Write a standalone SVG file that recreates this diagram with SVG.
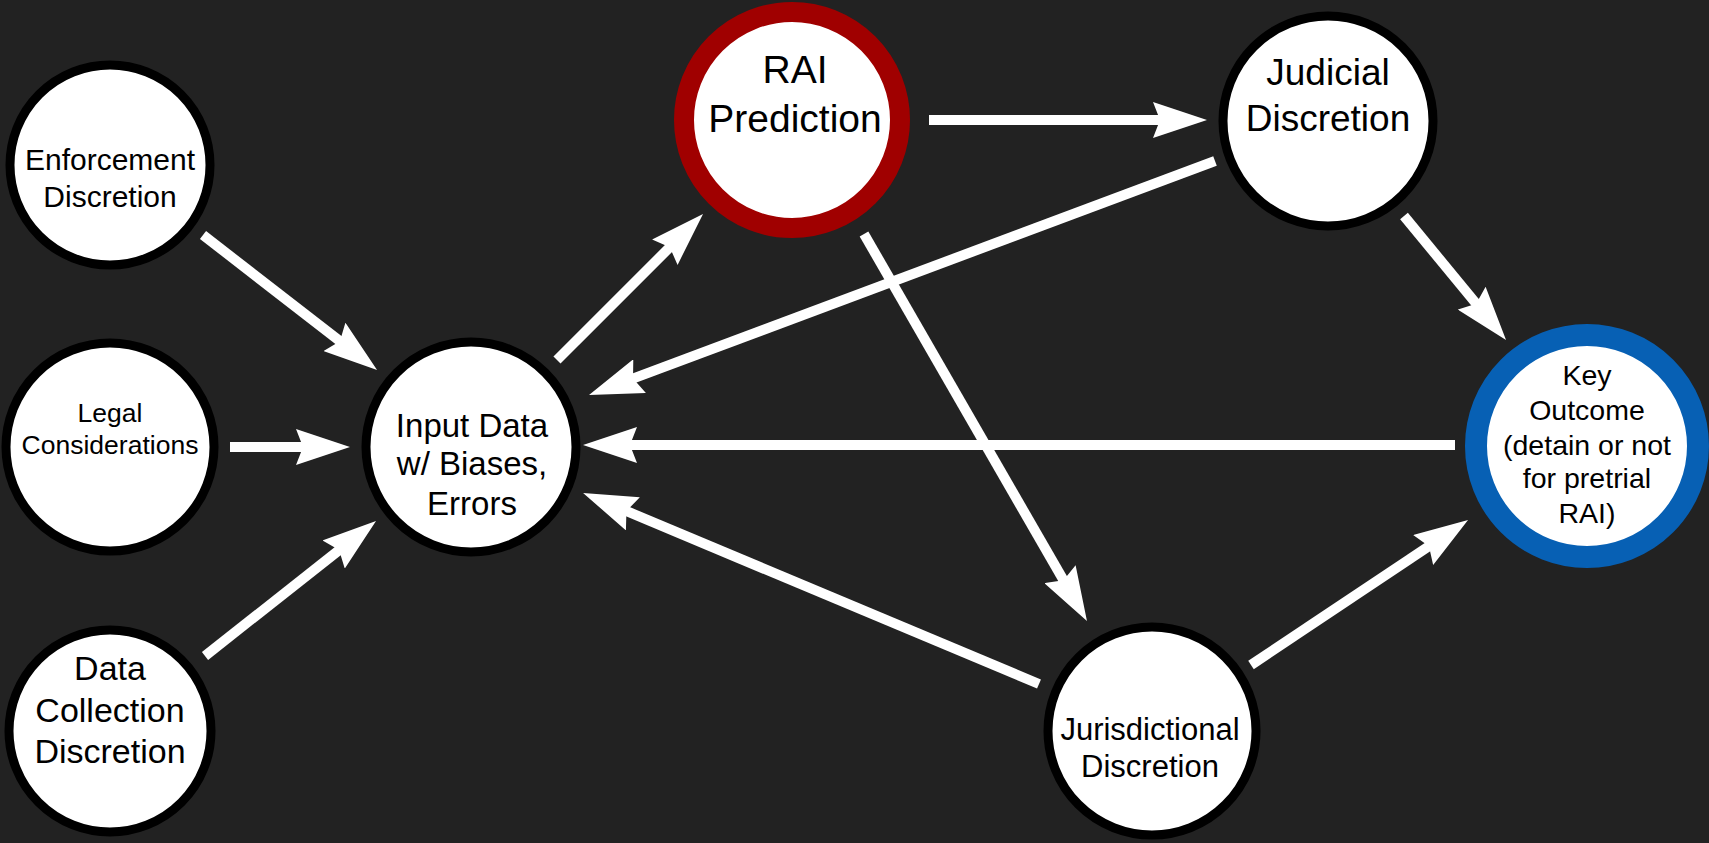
<svg xmlns="http://www.w3.org/2000/svg" width="1709" height="843" viewBox="0 0 1709 843">
<defs>
<style>
.node{fill:#ffffff;stroke:#000000;stroke-width:9}
.rai{fill:#ffffff;stroke:#a00000;stroke-width:20}
.key{fill:#ffffff;stroke:#0760b4;stroke-width:22}
.edge{stroke:#ffffff;stroke-width:10;fill:none;marker-end:url(#ah)}
text{font-family:"Liberation Sans",Arial,Helvetica,sans-serif;fill:#000000;text-anchor:middle}
</style>
<marker id="ah" markerUnits="userSpaceOnUse" markerWidth="54" markerHeight="36" viewBox="0 0 54 36" refX="8" refY="18" orient="auto">
<path d="M0,0 L54,18 L0,36 L7,18 Z" fill="#ffffff"/>
</marker>
</defs>
<rect width="1709" height="843" fill="#222222"/>
<g id="connectors">
<path class="edge" d="M203,235 L340.7,341.8"/>
<path class="edge" d="M230,447 L304,447"/>
<path class="edge" d="M205,656 L339.9,549.5"/>
<path class="edge" d="M557,360 L670.5,246.5"/>
<path class="edge" d="M929,120 L1161,120"/>
<path class="edge" d="M1215,161 L632.1,378.9"/>
<path class="edge" d="M864,234 L1064,581.1"/>
<path class="edge" d="M1404,216 L1476.8,304.4"/>
<path class="edge" d="M1455,445 L629,445"/>
<path class="edge" d="M1039,684 L625.5,510.7"/>
<path class="edge" d="M1251,665 L1429.8,545.6"/>
</g>
<g id="enforcement">
<circle class="node" cx="110" cy="165" r="100"/>
<text font-size="30"><tspan x="110" y="170">Enforcement</tspan><tspan x="110" y="207">Discretion</tspan></text>
</g>
<g id="legal">
<circle class="node" cx="110" cy="447" r="104"/>
<text font-size="26.5"><tspan x="110" y="422">Legal</tspan><tspan x="110" y="454">Considerations</tspan></text>
</g>
<g id="datacollection">
<circle class="node" cx="110" cy="731" r="101"/>
<text font-size="34"><tspan x="110" y="680">Data</tspan><tspan x="110" y="722">Collection</tspan><tspan x="110" y="763">Discretion</tspan></text>
</g>
<g id="inputdata">
<circle class="node" cx="471" cy="447" r="105"/>
<text font-size="33"><tspan x="472" y="437">Input Data</tspan><tspan x="472" y="475">w/ Biases,</tspan><tspan x="472" y="515">Errors</tspan></text>
</g>
<g id="rai">
<circle class="rai" cx="792" cy="120" r="108"/>
<text font-size="39"><tspan x="795" y="83">RAI</tspan><tspan x="795" y="132">Prediction</tspan></text>
</g>
<g id="judicial">
<circle class="node" cx="1328" cy="121" r="105"/>
<text font-size="37"><tspan x="1328" y="85">Judicial</tspan><tspan x="1328" y="131">Discretion</tspan></text>
</g>
<g id="keyoutcome">
<circle class="key" cx="1587" cy="446" r="111"/>
<text font-size="28.5"><tspan x="1587" y="385">Key</tspan><tspan x="1587" y="420">Outcome</tspan><tspan x="1587" y="455">(detain or not</tspan><tspan x="1587" y="488">for pretrial</tspan><tspan x="1587" y="523">RAI)</tspan></text>
</g>
<g id="jurisdictional">
<circle class="node" cx="1152" cy="731" r="104"/>
<text font-size="31"><tspan x="1150" y="740">Jurisdictional</tspan><tspan x="1150" y="777">Discretion</tspan></text>
</g>
</svg>
